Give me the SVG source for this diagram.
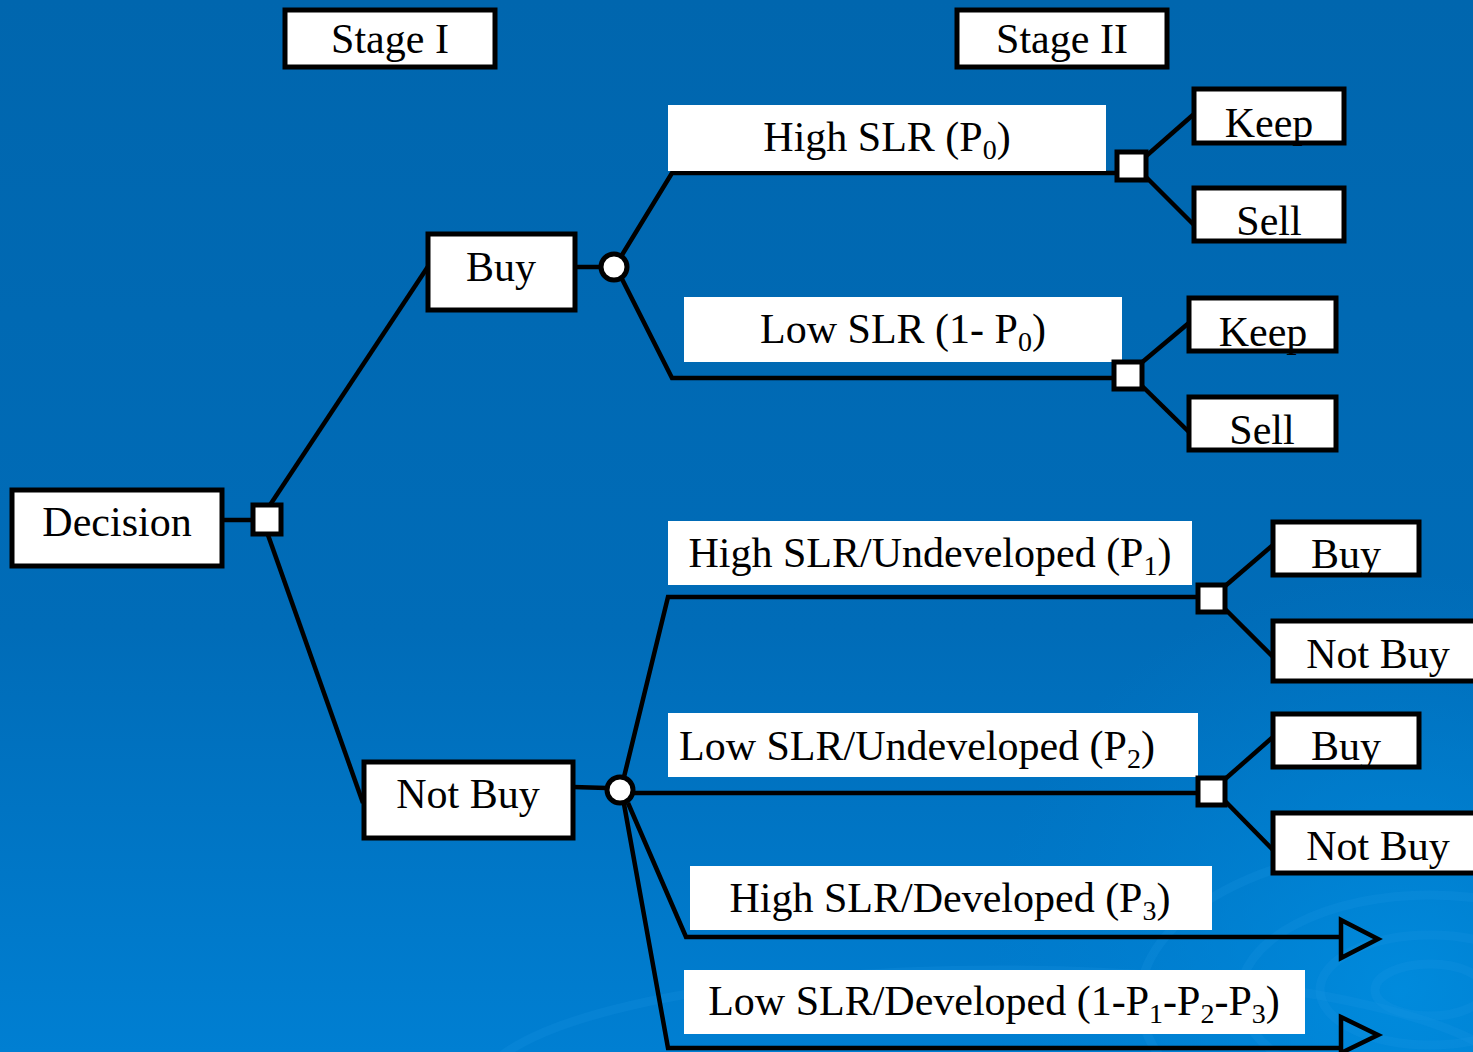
<svg xmlns="http://www.w3.org/2000/svg" width="1473" height="1052" viewBox="0 0 1473 1052">
<defs>
<linearGradient id="bg" x1="0" y1="0" x2="0" y2="1">
<stop offset="0" stop-color="#0066ae"/>
<stop offset="0.6" stop-color="#006cb8"/>
<stop offset="1" stop-color="#007fd2"/>
</linearGradient>
<radialGradient id="glow" cx="1400" cy="990" r="420" gradientUnits="userSpaceOnUse">
<stop offset="0" stop-color="#008ee0" stop-opacity="0.8"/>
<stop offset="1" stop-color="#0080d0" stop-opacity="0"/>
</radialGradient>
<style>
.box{fill:#fff;stroke:#000;stroke-width:5}
.lbl{fill:#fff}
.t{font-family:"Liberation Serif","Times New Roman",serif;font-size:42px;fill:#000;text-anchor:middle}
.sub{font-size:28px}
.c{stroke:#000;stroke-width:4.5;fill:none}
.sq{fill:#fff;stroke:#000;stroke-width:5}
.ring{fill:none;stroke:#1a95e2;stroke-opacity:0.22;stroke-width:9}
</style>
</defs>
<rect width="1473" height="1052" fill="url(#bg)"/>
<rect width="1473" height="1052" fill="url(#glow)"/>
<g id="ripples">
<ellipse class="ring" cx="1430" cy="990" rx="55" ry="26"/>
<ellipse class="ring" cx="1430" cy="990" rx="110" ry="55"/>
<ellipse class="ring" cx="1430" cy="995" rx="190" ry="100"/>
<ellipse class="ring" cx="1430" cy="1000" rx="290" ry="155" stroke-opacity="0.15"/>
<ellipse class="ring" cx="1000" cy="1090" rx="520" ry="120" stroke-opacity="0.12"/>
</g>
<g id="connectors">
<line class="c" x1="222" y1="520" x2="253" y2="520"/>
<line class="c" x1="270" y1="505" x2="429" y2="265"/>
<line class="c" x1="268" y1="535" x2="363" y2="803"/>
<line class="c" x1="575" y1="267" x2="601" y2="267"/>
<polyline class="c" points="622,255 672,173 1117,173"/>
<polyline class="c" points="622,279 672,378 1114,378"/>
<line class="c" x1="1145" y1="157" x2="1194" y2="114"/>
<line class="c" x1="1145" y1="176" x2="1194" y2="225"/>
<line class="c" x1="1140" y1="364" x2="1190" y2="322"/>
<line class="c" x1="1140" y1="384" x2="1190" y2="433"/>
<line class="c" x1="573" y1="787" x2="607" y2="788"/>
<polyline class="c" points="624,777 668,597 1198,597"/>
<line class="c" x1="633" y1="793" x2="1198" y2="793"/>
<polyline class="c" points="628,803 686,937 1340,937"/>
<polyline class="c" points="624,804 668,1048 1340,1048"/>
<line class="c" x1="1224" y1="587" x2="1273" y2="545"/>
<line class="c" x1="1224" y1="608" x2="1273" y2="657"/>
<line class="c" x1="1224" y1="780" x2="1273" y2="737"/>
<line class="c" x1="1224" y1="800" x2="1273" y2="850"/>
<polygon class="c" points="1341,920 1378,939 1341,958"/>
<polygon class="c" points="1341,1017 1378,1035 1341,1053"/>
</g>
<g id="stage1"><rect class="box" x="285" y="10" width="210" height="57"/><text class="t" x="390" y="53">Stage I</text></g>
<g id="stage2"><rect class="box" x="957" y="10" width="210" height="57"/><text class="t" x="1062" y="53">Stage II</text></g>
<g id="decision"><rect class="box" x="12" y="490" width="210" height="76"/><text class="t" x="117" y="536">Decision</text></g>
<g id="decision-node"><rect class="sq" x="253" y="505" width="28" height="29"/></g>
<g id="buy"><rect class="box" x="428" y="234" width="147" height="76"/><text class="t" x="501" y="281">Buy</text></g>
<g id="buy-chance"><circle cx="614" cy="267" r="13" fill="#fff" stroke="#000" stroke-width="5"/></g>
<g id="high-slr-p0"><rect class="lbl" x="668" y="105" width="438" height="66"/><text class="t" x="887" y="151">High SLR (P<tspan class="sub" dy="8">0</tspan><tspan dy="-8">)</tspan></text></g>
<g id="low-slr-p0"><rect class="lbl" x="684" y="297" width="438" height="65"/><text class="t" x="903" y="343">Low SLR (1- P<tspan class="sub" dy="8">0</tspan><tspan dy="-8">)</tspan></text></g>
<g id="node-high-p0"><rect class="sq" x="1117" y="152" width="29" height="28"/></g>
<g id="node-low-p0"><rect class="sq" x="1114" y="362" width="28" height="27"/></g>
<g id="keep1"><rect class="box" x="1194" y="89" width="150" height="54"/><text class="t" x="1269" y="137">Keep</text></g>
<g id="sell1"><rect class="box" x="1194" y="188" width="150" height="53"/><text class="t" x="1269" y="235">Sell</text></g>
<g id="keep2"><rect class="box" x="1189" y="298" width="147" height="53"/><text class="t" x="1263" y="346">Keep</text></g>
<g id="sell2"><rect class="box" x="1189" y="397" width="147" height="53"/><text class="t" x="1262" y="444">Sell</text></g>
<g id="notbuy"><rect class="box" x="364" y="762" width="209" height="76"/><text class="t" x="468" y="808">Not Buy</text></g>
<g id="notbuy-chance"><circle cx="620" cy="790" r="13" fill="#fff" stroke="#000" stroke-width="5"/></g>
<g id="high-undev"><rect class="lbl" x="668" y="521" width="524" height="64"/><text class="t" x="930" y="567">High SLR/Undeveloped (P<tspan class="sub" dy="8">1</tspan><tspan dy="-8">)</tspan></text></g>
<g id="low-undev"><rect class="lbl" x="668" y="713" width="530" height="64"/><text class="t" x="917" y="760">Low SLR/Undeveloped (P<tspan class="sub" dy="8">2</tspan><tspan dy="-8">)</tspan></text></g>
<g id="high-dev"><rect class="lbl" x="690" y="866" width="522" height="64"/><text class="t" x="950" y="912">High SLR/Developed (P<tspan class="sub" dy="8">3</tspan><tspan dy="-8">)</tspan></text></g>
<g id="low-dev"><rect class="lbl" x="684" y="970" width="621" height="64"/><text class="t" x="994" y="1015">Low SLR/Developed (1-P<tspan class="sub" dy="8">1</tspan><tspan dy="-8">-P</tspan><tspan class="sub" dy="8">2</tspan><tspan dy="-8">-P</tspan><tspan class="sub" dy="8">3</tspan><tspan dy="-8">)</tspan></text></g>
<g id="node-high-undev"><rect class="sq" x="1198" y="585" width="27" height="27"/></g>
<g id="node-low-undev"><rect class="sq" x="1198" y="778" width="27" height="27"/></g>
<g id="buy-r1"><rect class="box" x="1273" y="522" width="146" height="53"/><text class="t" x="1346" y="568">Buy</text></g>
<g id="notbuy-r1"><rect class="box" x="1273" y="621" width="210" height="60"/><text class="t" x="1378" y="668">Not Buy</text></g>
<g id="buy-r2"><rect class="box" x="1273" y="714" width="146" height="53"/><text class="t" x="1346" y="760">Buy</text></g>
<g id="notbuy-r2"><rect class="box" x="1273" y="813" width="210" height="60"/><text class="t" x="1378" y="860">Not Buy</text></g>
</svg>
